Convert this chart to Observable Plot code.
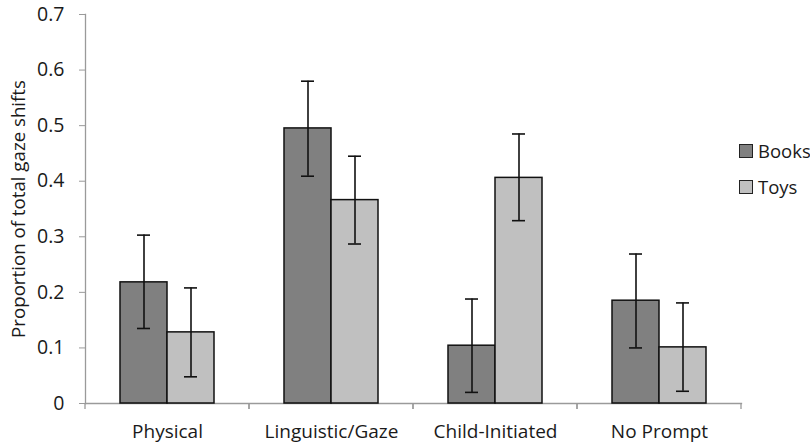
<!DOCTYPE html>
<html>
<head>
<meta charset="utf-8">
<script src="https://cdn.jsdelivr.net/npm/d3@7"></script>
<script src="https://cdn.jsdelivr.net/npm/@observablehq/plot@0.6"></script>
<style>
  html, body { margin: 0; padding: 0; background: white; }
  #wrap { position: relative; width: 810px; height: 444px; font-family: "Open Sans", sans-serif; }
  .leg { position: absolute; left: 739px; display: flex; align-items: center; font-size: 18.5px; color: #1a1a1a; }
  .sw { width: 12px; height: 12px; border: 1.5px solid #222; margin-right: 5px; }
</style>
</head>
<body>
<div id="wrap"></div>
<script>
const categories = ["Physical", "Linguistic/Gaze", "Child-Initiated", "No Prompt"];
const series = ["Books", "Toys"];
const seriesColors = ["#808080", "#c0c0c0"];
const booksMean = [0.218, 0.495, 0.104, 0.185];
const booksLow  = [0.135, 0.409, 0.020, 0.100];
const booksHigh = [0.303, 0.580, 0.188, 0.269];
const toysMean  = [0.128, 0.366, 0.406, 0.101];
const toysLow   = [0.048, 0.287, 0.329, 0.022];
const toysHigh  = [0.208, 0.445, 0.485, 0.181];
const yTicks = [0, 0.1, 0.2, 0.3, 0.4, 0.5, 0.6, 0.7];
const yTickLabels = ["0", "0.1", "0.2", "0.3", "0.4", "0.5", "0.6", "0.7"];

const rows = [];
categories.forEach((c, i) => {
  rows.push({category: c, series: "Books", value: booksMean[i], low: booksLow[i], high: booksHigh[i]});
  rows.push({category: c, series: "Toys", value: toysMean[i], low: toysLow[i], high: toysHigh[i]});
});

const axisGray = "#9a9a9a";

function boundaryTicks(index, scales, values, dims) {
  const r = scales.x.range();
  const y0 = scales.y(0);
  const g = d3.create("svg:g").attr("stroke", axisGray).attr("stroke-width", 1.3);
  for (const x of r) {
    g.append("line").attr("x1", x).attr("x2", x).attr("y1", y0).attr("y2", y0 + 6);
  }
  return g.node();
}

const chart = Plot.plot({
  width: 810,
  height: 444,
  marginLeft: 85,
  marginRight: 69,
  marginTop: 14,
  marginBottom: 41,
  style: {fontFamily: "Open Sans, sans-serif", fontSize: "18px", color: "#1a1a1a", background: "white"},
  fx: {domain: categories, padding: 0, label: null},
  x: {domain: series, paddingInner: 0, paddingOuter: 0.726, axis: null},
  y: {domain: [0, 0.7]},
  color: {domain: series, range: seriesColors},
  marks: [
    Plot.frame({anchor: "left", facet: "super", stroke: axisGray, strokeWidth: 1.3}),
    Plot.frame({anchor: "bottom", facet: "super", stroke: axisGray, strokeWidth: 1.3}),
    boundaryTicks,
    Plot.axisY({
      ticks: yTicks,
      tickFormat: (d) => yTickLabels[yTicks.indexOf(d)],
      tickSize: 6,
      tickPadding: 15,
      stroke: axisGray,
      fill: "#1a1a1a",
      fontSize: 19.5,
      label: null
    }),
    Plot.text(["Proportion of total gaze shifts"], {
      facet: "super", frameAnchor: "left", rotate: -90, dx: -66, dy: 0,
      fontSize: 18.7, fill: "#1a1a1a", textAnchor: "middle"
    }),
    Plot.axisFx({anchor: "bottom", tickSize: 0, tickPadding: 21, fontSize: 19, fill: "#1a1a1a", label: null}),
    Plot.barY(rows, {fx: "category", x: "series", y: "value", fill: "series", stroke: "#111", strokeWidth: 1.5}),
    Plot.ruleX(rows, {fx: "category", x: "series", y1: "low", y2: "high", stroke: "#111", strokeWidth: 1.6}),
    Plot.tickY(rows, {fx: "category", x: "series", y: "low", stroke: "#111", strokeWidth: 1.6, insetLeft: 17, insetRight: 17}),
    Plot.tickY(rows, {fx: "category", x: "series", y: "high", stroke: "#111", strokeWidth: 1.6, insetLeft: 17, insetRight: 17})
  ]
});

const wrap = document.getElementById("wrap");
wrap.appendChild(chart);

const legendTops = [143, 179];
series.forEach((s, i) => {
  const item = document.createElement("div");
  item.className = "leg";
  item.style.top = (legendTops[i] - 5) + "px";
  const sw = document.createElement("div");
  sw.className = "sw";
  sw.style.background = seriesColors[i];
  const label = document.createElement("span");
  label.textContent = s;
  item.appendChild(sw);
  item.appendChild(label);
  wrap.appendChild(item);
});
</script>
</body>
</html>
